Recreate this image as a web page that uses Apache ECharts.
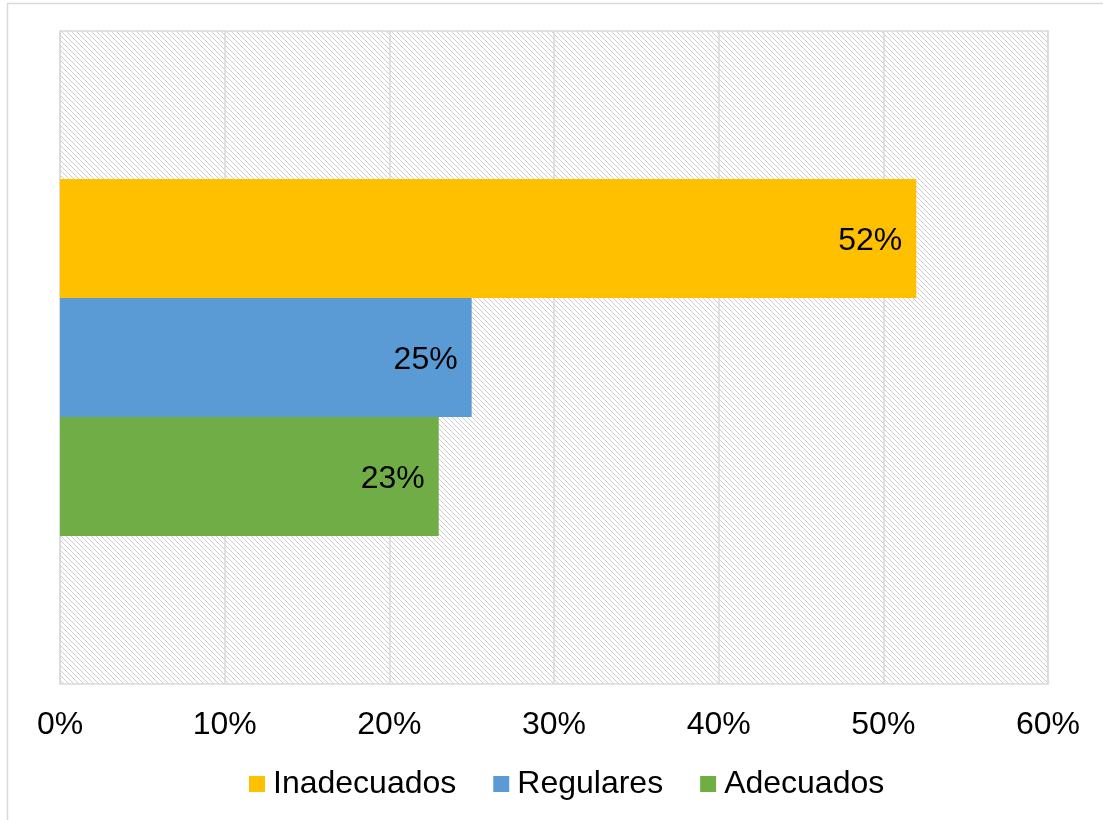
<!DOCTYPE html>
<html>
<head>
<meta charset="utf-8">
<script src="https://cdn.jsdelivr.net/npm/echarts@6/dist/echarts.min.js"></script>
<style>
  html, body { margin: 0; padding: 0; background: #fff; }
  #chart { width: 1103px; height: 820px; }
</style>
</head>
<body>
<div id="chart"></div>
<script>
// Share of responses per level
const seriesNames = ['Inadecuados', 'Regulares', 'Adecuados'];
const seriesValues = [52, 25, 23];
const seriesColors = ['#FFC000', '#5B9BD5', '#70AD47'];
const categories = [''];
const xTicks = [0, 10, 20, 30, 40, 50, 60];

// Light downward-diagonal hatch used for the plot background
function makeHatch() {
  const n = 5;
  const c = document.createElement('canvas');
  c.width = n; c.height = n;
  const ctx = c.getContext('2d');
  ctx.fillStyle = '#ffffff';
  ctx.fillRect(0, 0, n, n);
  ctx.fillStyle = '#cdcdcd';
  for (let i = 0; i < n; i++) {
    ctx.fillRect(i, i, 1, 1);
  }
  return c;
}

const chart = echarts.init(document.getElementById('chart'), null, { renderer: 'canvas' });
const font = '"Liberation Sans", Arial, sans-serif';

chart.setOption({
  animation: false,
  textStyle: { fontFamily: font },
  graphic: [{
    type: 'rect',
    shape: { x: 7.5, y: 3.5, width: 1120, height: 840 },
    style: { fill: 'none', stroke: '#d9d9d9', lineWidth: 1.5 },
    silent: true,
    z: -10
  }],
  grid: {
    left: 60, top: 31, width: 988, height: 653,
    show: true,
    backgroundColor: { image: makeHatch(), repeat: 'repeat' },
    borderColor: '#d9d9d9',
    borderWidth: 1.5
  },
  legend: {
    data: seriesNames,
    left: 249,
    top: 768,
    padding: 0,
    itemWidth: 16,
    itemHeight: 16,
    itemGap: 37,
    icon: 'rect',
    textStyle: { fontSize: 32, color: '#000', fontFamily: font, padding: [0, 0, 0, 3] }
  },
  xAxis: {
    type: 'value',
    min: xTicks[0],
    max: xTicks[xTicks.length - 1],
    interval: 10,
    axisLine: { show: false },
    axisTick: { show: false },
    splitLine: { lineStyle: { color: '#d9d9d9', width: 1.5 } },
    axisLabel: {
      formatter: '{value}%',
      fontSize: 32,
      color: '#000',
      margin: 25,
      fontFamily: font
    }
  },
  yAxis: {
    type: 'category',
    data: categories,
    inverse: true,
    axisLine: { show: false },
    axisTick: { show: false },
    axisLabel: { show: false }
  },
  series: seriesNames.map((name, i) => ({
    name: name,
    type: 'bar',
    data: [seriesValues[i]],
    barGap: '0%',
    barCategoryGap: '45.3%',
    itemStyle: { color: seriesColors[i] },
    label: {
      show: true,
      position: 'insideRight',
      distance: 14,
      offset: [0, 3],
      formatter: '{c}%',
      fontSize: 32,
      color: '#000',
      fontFamily: font
    }
  }))
});
</script>
</body>
</html>
